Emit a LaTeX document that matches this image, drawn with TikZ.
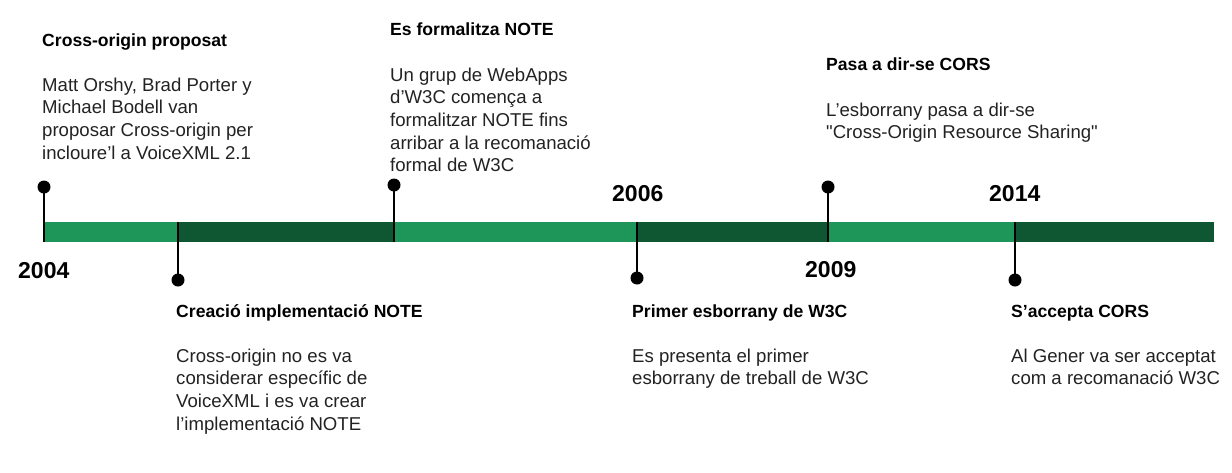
\documentclass[tikz,border=0pt]{standalone}
\usepackage{fontspec}
\setmainfont{Liberation Sans}
\definecolor{barlight}{HTML}{1E9659}
\definecolor{bardark}{HTML}{0F5632}
\definecolor{bodygray}{HTML}{222222}
% body text of an event: lines share the baseline of the first one
\newcommand{\tlbody}[1]{\parbox[t]{320pt}{\raggedright\fontsize{18.6}{22.7}\selectfont #1}}
\begin{document}
\begin{tikzpicture}[x=1pt,y=-1pt,
  seglight/.style={fill=barlight,draw=none},
  segdark/.style={fill=bardark,draw=none},
  evdot/.style={circle,fill=black,inner sep=0pt,minimum size=13pt},
  stem/.style={draw=black,line width=1.3pt},
  year/.style={anchor=base west,inner sep=0pt,font=\fontsize{23}{26}\selectfont\bfseries},
  evtitle/.style={anchor=base west,inner sep=0pt,font=\fontsize{17.6}{20}\selectfont\bfseries},
  evbody/.style={anchor=base west,inner sep=0pt,text=bodygray}]
\useasboundingbox (0,0) rectangle (1232,472);

% timeline bar
\path[seglight] (44,222) rectangle (178,242);
\path[segdark]  (178,222) rectangle (394,242);
\path[seglight] (394,222) rectangle (637,242);
\path[segdark]  (637,222) rectangle (828,242);
\path[seglight] (828,222) rectangle (1015,242);
\path[segdark]  (1015,222) rectangle (1214,242);

% bar anchor points of the stems
\coordinate (b1) at (44,242);
\coordinate (b2) at (178,222);
\coordinate (b3) at (394,242);
\coordinate (b4) at (637,222);
\coordinate (b5) at (828,242);
\coordinate (b6) at (1015,222);

% event dots
\node[evdot] (d1) at (44,187) {};
\node[evdot] (d2) at (178,280) {};
\node[evdot] (d3) at (394,185) {};
\node[evdot] (d4) at (637,278) {};
\node[evdot] (d5) at (828,187) {};
\node[evdot] (d6) at (1015,280) {};

% stems
\draw[stem] (d1.center) -- (b1);
\draw[stem] (d2.center) -- (b2);
\draw[stem] (d3.center) -- (b3);
\draw[stem] (d4.center) -- (b4);
\draw[stem] (d5.center) -- (b5);
\draw[stem] (d6.center) -- (b6);

% years
\node[year] (y2004) at (18,278) {2004};
\node[year] (y2006) at (612,201) {2006};
\node[year] (y2009) at (805,277) {2009};
\node[year] (y2014) at (989,201) {2014};

% events above the bar
\node[evtitle] (t1) at (42,46) {Cross-origin proposat};
\node[evbody] (e1) at (42,91) {\tlbody{Matt Orshy, Brad Porter y\\Michael Bodell van\\proposar Cross-origin per\\incloure’l a VoiceXML 2.1}};

\node[evtitle] (t3) at (390,35) {Es formalitza NOTE};
\node[evbody] (e3) at (390,81) {\tlbody{Un grup de WebApps\\d’W3C comença a\\formalitzar NOTE fins\\arribar a la recomanació\\formal de W3C}};

\node[evtitle] (t5) at (826,70) {Pasa a dir-se CORS};
\node[evbody] (e5) at (826,116) {\tlbody{L’esborrany pasa a dir-se\\\textquotedbl Cross-Origin Resource Sharing\textquotedbl}};

% events below the bar
\node[evtitle] (t2) at (176,317) {Creació implementació NOTE};
\node[evbody] (e2) at (176,362) {\tlbody{Cross-origin no es va\\considerar específic de\\VoiceXML i es va crear\\l’implementació NOTE}};

\node[evtitle] (t4) at (632,317) {Primer esborrany de W3C};
\node[evbody] (e4) at (632,362) {\tlbody{Es presenta el primer\\esborrany de treball de W3C}};

\node[evtitle] (t6) at (1011,317) {S’accepta CORS};
\node[evbody] (e6) at (1011,362) {\tlbody{Al Gener va ser acceptat\\com a recomanació W3C}};
\end{tikzpicture}
\end{document}
